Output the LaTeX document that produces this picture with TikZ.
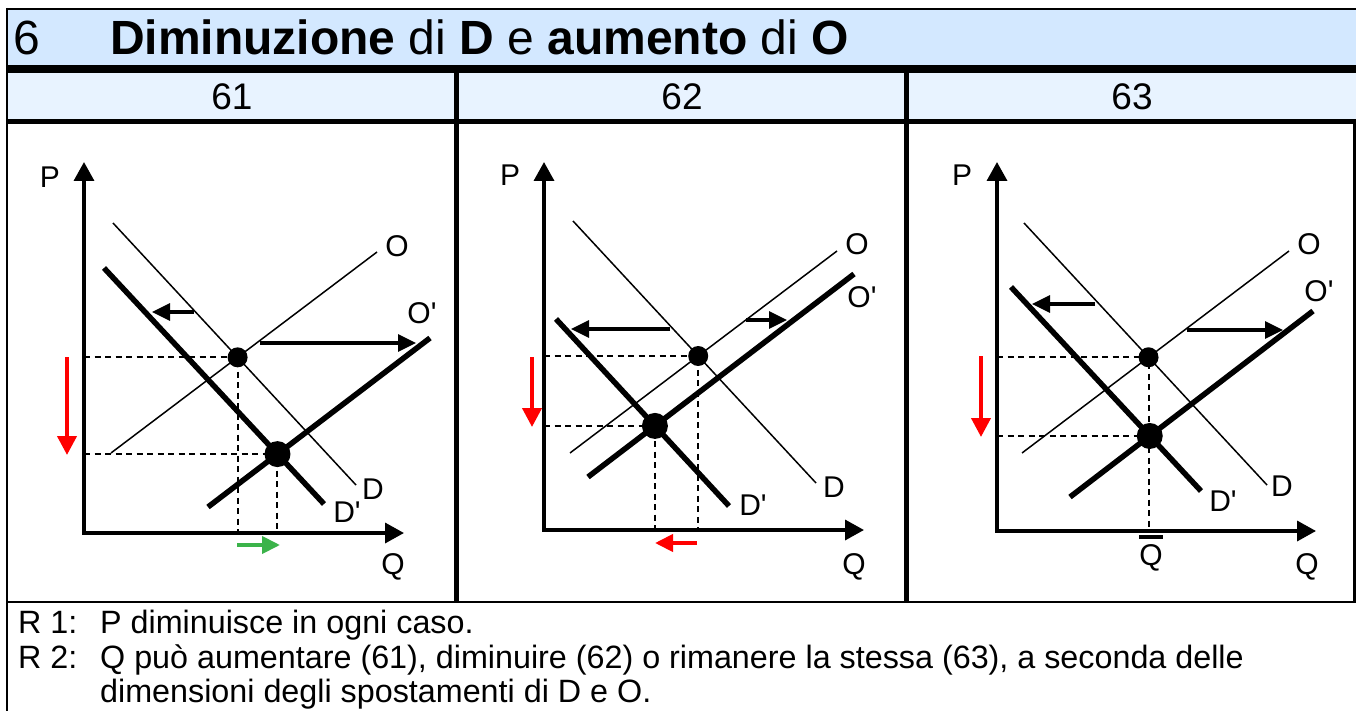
\documentclass[tikz,border=0pt]{standalone}
\usepackage{fontspec}
\setmainfont{Liberation Sans}[Ligatures=TeXOff]
\usetikzlibrary{arrows.meta,intersections}
\definecolor{titleblue}{HTML}{D3E8FF}
\definecolor{subblue}{HTML}{E8F3FF}
\definecolor{shiftgreen}{HTML}{3BB34A}
\tikzset{
  axes/.style      = {line width=3.5pt, {Triangle[length=19pt,width=20pt]}-{Triangle[length=19pt,width=20pt]}},
  thincurve/.style = {line width=1.5pt},
  thickcurve/.style= {line width=5.5pt},
  guide/.style     = {line width=2pt, dash pattern=on 6pt off 4.5pt},
  shiftarrow/.style= {line width=3.2pt, -{Triangle[length=18pt,width=17pt]}},
  pricearrow/.style= {red, line width=4pt, -{Triangle[length=19pt,width=19pt]}},
  qtyarrow/.style  = {line width=4pt, -{Triangle[length=18pt,width=17pt]}},
  curvelabel/.style= {font=\fontsize{30}{32}\selectfont, inner sep=0pt},
  bodytext/.style  = {font=\fontsize{32.3}{34}\selectfont, inner sep=0pt, anchor=base west},
}
\begin{document}
\begin{tikzpicture}[x=1pt, y=-1pt]
    \useasboundingbox (0,0) rectangle (1356,711);
    % header bands and frame
    \fill[titleblue] (7,9)  rectangle (1356,65);
    \fill[subblue]   (7,73) rectangle (1356,119);
    \draw[line width=2pt]   (7,9)      -- (1356,9);
    \draw[line width=8pt]   (7,69)     -- (1356,69);
    \draw[line width=5pt]   (7,121.5)  -- (1356,121.5);
    \draw[line width=5pt]   (456.5,73) -- (456.5,602);
    \draw[line width=5pt]   (906.5,73) -- (906.5,602);
    \draw[line width=2.5pt] (1354.5,122) -- (1354.5,602);
    \draw[line width=2.5pt] (7,602)    -- (1356,602);
    \draw[line width=2.5pt] (7,8)      -- (7,711);
    % titles
    \node[anchor=base west, inner sep=0pt, font=\fontsize{48}{50}\selectfont] (num)   at (13,55)  {6};
    \node[anchor=base west, inner sep=0pt, font=\fontsize{48}{50}\selectfont] (title) at (110,55)
      {\textbf{Diminuzione} di \textbf{D} e \textbf{aumento} di \textbf{O}};
    \node[anchor=base, inner sep=0pt, font=\fontsize{37}{40}\selectfont] (h61) at (232,110)  {61};
    \node[anchor=base, inner sep=0pt, font=\fontsize{37}{40}\selectfont] (h62) at (682,110)  {62};
    \node[anchor=base, inner sep=0pt, font=\fontsize{37}{40}\selectfont] (h63) at (1132,110) {63};

    % ---------- panel 61 ----------
    \coordinate (o1)   at ( 84,533);
    \coordinate (p1)   at ( 84,162);
    \coordinate (q1)   at (404,533);
    \coordinate (D1a)  at (113,223);
    \coordinate (D1b)  at (356,485);
    \coordinate (O1a)  at (111,453);
    \coordinate (O1b)  at (377,252);
    \coordinate (Dp1a) at (104,268);
    \coordinate (Dp1b) at (324,504);
    \coordinate (Op1a) at (208,507);
    \coordinate (Op1b) at (430,338);
    \draw[axes] (p1) -- (o1) -- (q1);
    \draw[thincurve,  name path=D1]  (D1a)  -- (D1b);
    \draw[thincurve,  name path=O1]  (O1a)  -- (O1b);
    \draw[thickcurve, name path=Dp1] (Dp1a) -- (Dp1b);
    \draw[thickcurve, name path=Op1] (Op1a) -- (Op1b);
    \path[name intersections={of=D1 and O1, by=E1}];
    \path[name intersections={of=Dp1 and Op1, by=F1}];
    \draw[guide] (E1 -| o1) -- (E1) -- (E1 |- o1);
    \draw[guide] (F1 -| o1) -- (F1) -- (F1 |- o1);
    \fill (E1) circle (10pt);
    \fill (F1) circle (13pt);
    \coordinate (sD1a) at (194,312);
    \coordinate (sD1b) at (152,312);
    \coordinate (sO1a) at (260,343);
    \coordinate (sO1b) at (416,343);
    \coordinate (rP1a) at ( 67,357);
    \coordinate (rP1b) at ( 67,455);
    \coordinate (gQ1a) at (237,545);
    \coordinate (gQ1b) at (280,545);
    \draw[shiftarrow] (sD1a) -- (sD1b);
    \draw[shiftarrow] (sO1a) -- (sO1b);
    \draw[pricearrow] (rP1a) -- (rP1b);
    \draw[qtyarrow, shiftgreen] (gQ1a) -- (gQ1b);
    \node[curvelabel] (P1)   at ( 50,177) {P};
    \node[curvelabel] (Q1)   at (393,567) {Q};
    \node[curvelabel] (O1)   at (397,246) {O};
    \node[curvelabel] (Op1)  at (422,313) {O'};
    \node[curvelabel] (Dl1)  at (373,489) {D};
    \node[curvelabel] (Dpl1) at (347,512) {D'};

    % ---------- panel 62 ----------
    \coordinate (o2)   at (544,530);
    \coordinate (p2)   at (544,162);
    \coordinate (q2)   at (864,530);
    \coordinate (D2a)  at (573,221);
    \coordinate (D2b)  at (816,483);
    \coordinate (O2a)  at (570,453);
    \coordinate (O2b)  at (837,251);
    \coordinate (Dp2a) at (556,319);
    \coordinate (Dp2b) at (729,506);
    \coordinate (Op2a) at (588,477);
    \coordinate (Op2b) at (854,274);
    \draw[axes] (p2) -- (o2) -- (q2);
    \draw[thincurve,  name path=D2]  (D2a)  -- (D2b);
    \draw[thincurve,  name path=O2]  (O2a)  -- (O2b);
    \draw[thickcurve, name path=Dp2] (Dp2a) -- (Dp2b);
    \draw[thickcurve, name path=Op2] (Op2a) -- (Op2b);
    \path[name intersections={of=D2 and O2, by=E2}];
    \path[name intersections={of=Dp2 and Op2, by=F2}];
    \draw[guide] (E2 -| o2) -- (E2) -- (E2 |- o2);
    \draw[guide] (F2 -| o2) -- (F2) -- (F2 |- o2);
    \fill (E2) circle (10pt);
    \fill (F2) circle (13pt);
    \coordinate (sD2a) at (670,329);
    \coordinate (sD2b) at (571,329);
    \coordinate (sO2a) at (746,320);
    \coordinate (sO2b) at (787,320);
    \coordinate (rP2a) at (532,357);
    \coordinate (rP2b) at (532,427);
    \coordinate (rQ2a) at (697,543);
    \coordinate (rQ2b) at (655,543);
    \draw[shiftarrow] (sD2a) -- (sD2b);
    \draw[shiftarrow] (sO2a) -- (sO2b);
    \draw[pricearrow] (rP2a) -- (rP2b);
    \draw[qtyarrow, red] (rQ2a) -- (rQ2b);
    \node[curvelabel] (P2)   at (510,175) {P};
    \node[curvelabel] (Q2)   at (854,567) {Q};
    \node[curvelabel] (O2)   at (857,244) {O};
    \node[curvelabel] (Op2)  at (862,297) {O'};
    \node[curvelabel] (Dl2)  at (834,487) {D};
    \node[curvelabel] (Dpl2) at (753,505) {D'};

    % ---------- panel 63 ----------
    \coordinate (o3)   at ( 997,531);
    \coordinate (p3)   at ( 997,162);
    \coordinate (q3)   at (1316,531);
    \coordinate (D3a)  at (1024,223);
    \coordinate (D3b)  at (1267,485);
    \coordinate (O3a)  at (1022,453);
    \coordinate (O3b)  at (1289,251);
    \coordinate (Dp3a) at (1011,287);
    \coordinate (Dp3b) at (1201,491);
    \coordinate (Op3a) at (1070,497);
    \coordinate (Op3b) at (1313,311);
    \draw[axes] (p3) -- (o3) -- (q3);
    \draw[thincurve,  name path=D3]  (D3a)  -- (D3b);
    \draw[thincurve,  name path=O3]  (O3a)  -- (O3b);
    \draw[thickcurve, name path=Dp3] (Dp3a) -- (Dp3b);
    \draw[thickcurve, name path=Op3] (Op3a) -- (Op3b);
    \path[name intersections={of=D3 and O3, by=E3}];
    \path[name intersections={of=Dp3 and Op3, by=F3}];
    \draw[guide] (E3 -| o3) -- (E3) -- (E3 |- o3);
    \draw[guide] (F3 -| o3) -- (F3);
    \fill (E3) circle (10pt);
    \fill (F3) circle (13pt);
    \coordinate (sD3a) at (1095,304);
    \coordinate (sD3b) at (1032,304);
    \coordinate (sO3a) at (1187,330);
    \coordinate (sO3b) at (1283,330);
    \coordinate (rP3a) at ( 981,356);
    \coordinate (rP3b) at ( 981,437);
    \draw[shiftarrow] (sD3a) -- (sD3b);
    \draw[shiftarrow] (sO3a) -- (sO3b);
    \draw[pricearrow] (rP3a) -- (rP3b);
    \node[curvelabel] (P3)   at ( 962,175) {P};
    \node[curvelabel] (Q3)   at (1307,567) {Q};
    \node[curvelabel] (Qbar) at (1151,558) {Q};
    \draw[line width=4pt] ([yshift=7pt]Qbar.north west) -- ([yshift=7pt]Qbar.north east);
    \node[curvelabel] (O3)   at (1309,244) {O};
    \node[curvelabel] (Op3)  at (1319,291) {O'};
    \node[curvelabel] (Dl3)  at (1282,486) {D};
    \node[curvelabel] (Dpl3) at (1223,501) {D'};

    % remarks
    \node[bodytext] (r1)  at (18,633)  {R 1:};
    \node[bodytext] (t1)  at (100,633) {P diminuisce in ogni caso.};
    \node[bodytext] (r2)  at (18,668)  {R 2:};
    \node[bodytext] (t2)  at (100,668) {Q può aumentare (61), diminuire (62) o rimanere la stessa (63), a seconda delle};
    \node[bodytext] (t2b) at (100,702) {dimensioni degli spostamenti di D e O.};
\end{tikzpicture}
\end{document}
